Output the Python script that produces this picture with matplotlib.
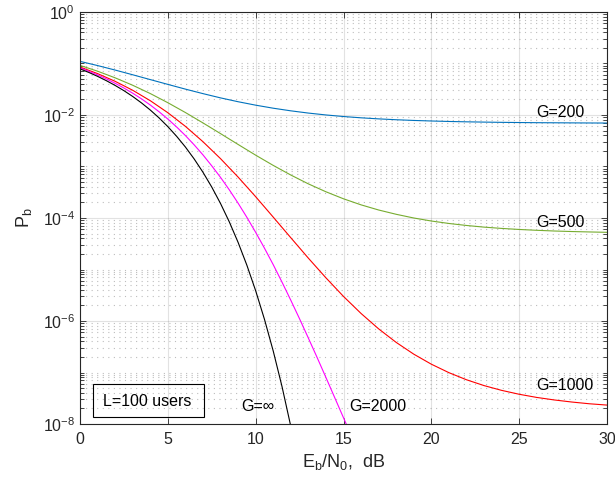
import matplotlib
matplotlib.use("Agg")
import matplotlib.pyplot as plt
from matplotlib.ticker import FixedLocator, LogLocator, NullFormatter
from matplotlib.patches import Rectangle

plt.rcParams['font.family'] = ['Liberation Sans', 'DejaVu Sans']
plt.rcParams['mathtext.fontset'] = 'custom'
plt.rcParams['mathtext.rm'] = 'Liberation Sans'
plt.rcParams['mathtext.it'] = 'Liberation Sans:italic'
plt.rcParams['mathtext.default'] = 'regular'

# Eb/N0 grid, dB
ebno_db = [0, 1, 2, 3, 4, 5, 6, 7, 8, 9, 10, 11, 12, 13, 14, 15,
           16, 17, 18, 19, 20, 21, 22, 23, 24, 25, 26, 27, 28, 29, 30]
ebno_half = [0, 0.5, 1, 1.5, 2, 2.5, 3, 3.5, 4, 4.5, 5, 5.5, 6, 6.5, 7, 7.5,
             8, 8.5, 9, 9.5, 10, 10.5, 11, 11.5, 12, 12.5, 13, 13.5, 14, 14.5,
             15, 15.5]

pb_g200 = [0.1100, 0.0912, 0.0746, 0.0604, 0.0487, 0.0393, 0.0318, 0.0260,
           0.0215, 0.0181, 0.01552, 0.01355, 0.01205, 0.0109, 0.01002, 0.00934,
           0.00882, 0.00841, 0.00809, 0.00784, 0.00765, 0.00749, 0.00737,
           0.00728, 0.00720, 0.00714, 0.00709, 0.00706, 0.00703, 0.00700, 0.00698]
pb_g500 = [0.0919, 0.0709, 0.0527, 0.0378, 0.0261, 0.01733, 0.01117, 0.00702,
           0.00435, 0.00268, 0.00166, 0.00105, 6.83e-4, 4.60e-4, 3.23e-4, 2.36e-4,
           1.80e-4, 1.43e-4, 1.18e-4, 1.00e-4, 8.74e-5, 7.83e-5, 7.16e-5, 6.65e-5,
           6.28e-5, 5.99e-5, 5.77e-5, 5.59e-5, 5.46e-5, 5.36e-5, 5.27e-5]
pb_g1000 = [0.0854, 0.0637, 0.0451, 0.0302, 0.01896, 0.01108, 0.00602, 0.00303,
            0.00142, 6.23e-4, 2.59e-4, 1.04e-4, 4.14e-5, 1.66e-5, 6.89e-6, 3.0e-6,
            1.40e-6, 7.04e-7, 3.84e-7, 2.27e-7, 1.45e-7, 9.93e-8, 7.23e-8, 5.57e-8,
            4.50e-8, 3.78e-8, 3.28e-8, 2.93e-8, 2.67e-8, 2.47e-8, 2.33e-8]
pb_g2000 = [0.0821, 0.0706, 0.0600, 0.0502, 0.0413, 0.0334, 0.0265, 0.0206,
            0.01563, 0.01157, 0.00835, 0.00586, 0.00399, 0.00263, 0.00168, 0.00103,
            6.15e-4, 3.52e-4, 1.94e-4, 1.03e-4, 5.27e-5, 2.60e-5, 1.24e-5, 5.68e-6,
            2.53e-6, 1.10e-6, 4.66e-7, 1.95e-7, 8.0e-8, 3.25e-8, 1.32e-8, 5.4e-9]
pb_ginf = [0.0786, 0.0671, 0.0563, 0.0464, 0.0375, 0.0297, 0.0229, 0.01717,
           0.0125, 0.00879, 0.00595, 0.00386, 0.00239, 0.00140, 7.73e-4, 3.99e-4,
           1.91e-4, 8.40e-5, 3.36e-5, 1.21e-5, 3.87e-6, 1.08e-6, 2.61e-7, 5.33e-8,
           9.0e-9]

x_ticks = [0, 5, 10, 15, 20, 25, 30]
y_ticks = [1e0, 1e-2, 1e-4, 1e-6, 1e-8]
y_labels = ['$10^{0}$', '$10^{-2}$', '$10^{-4}$', '$10^{-6}$', '$10^{-8}$']

axc = '#262626'
fs = 11.5

fig = plt.figure(figsize=(6.15, 4.84), dpi=100)
ax = fig.add_axes([80 / 615, 60 / 484, 527 / 615, 412 / 484])

ax.semilogy(ebno_db, pb_g200, color='#0072BD', lw=0.8)
ax.semilogy(ebno_db, pb_g500, color='#77AC30', lw=0.8)
ax.semilogy(ebno_db, pb_g1000, color='#FF0000', lw=0.8)
ax.semilogy(ebno_half[:len(pb_g2000)], pb_g2000, color='#FF00FF', lw=0.8)
ax.semilogy(ebno_half[:len(pb_ginf)], pb_ginf, color='k', lw=0.8)

ax.set_xlim(0, 30)
ax.set_ylim(1e-8, 1)
ax.xaxis.set_major_locator(FixedLocator(x_ticks))
ax.set_yticks(y_ticks)
ax.set_yticklabels(y_labels)
ax.yaxis.set_minor_locator(LogLocator(base=10, subs=[1, 2, 3, 4, 5, 6, 7, 8, 9], numticks=100))
ax.yaxis.set_minor_formatter(NullFormatter())

ax.grid(True, which='major', color=axc, alpha=0.13, lw=0.8)
ax.grid(True, which='minor', axis='y', color=axc, alpha=0.3, lw=0.8, ls=(0, (1, 4)))
ax.set_axisbelow(True)

ax.tick_params(which='both', direction='in', top=True, right=True,
               colors=axc, labelsize=fs, width=0.6)
ax.tick_params(which='major', length=4.5)
ax.tick_params(which='minor', length=3)
ax.tick_params(axis='x', pad=6)
for s in ax.spines.values():
    s.set_color(axc)
    s.set_linewidth(0.8)

ax.set_xlabel('E$_b$/N$_0$,  dB', fontsize=13, color=axc, labelpad=3)
ax.set_ylabel('P$_b$', fontsize=13, color=axc, labelpad=6)

ax.text(26.0, 1.1e-2, 'G=200', fontsize=fs, va='center', ha='left')
ax.text(26.0, 8e-5, 'G=500', fontsize=fs, va='center', ha='left')
ax.text(26.0, 5.5e-8, 'G=1000', fontsize=fs, va='center', ha='left')
ax.text(15.35, 2.2e-8, 'G=2000', fontsize=fs, va='center', ha='left')
ax.text(9.2, 2.2e-8, 'G=∞', fontsize=fs, va='center', ha='left')

ax.add_patch(Rectangle((13 / 527, 7 / 412), 111 / 527, 33 / 412,
                       transform=ax.transAxes, fill=False, ec='k', lw=0.8))
ax.text(23 / 527, 23 / 412, 'L=100 users', transform=ax.transAxes,
        fontsize=fs, va='center', ha='left')

fig.savefig('out.png', dpi=100)
